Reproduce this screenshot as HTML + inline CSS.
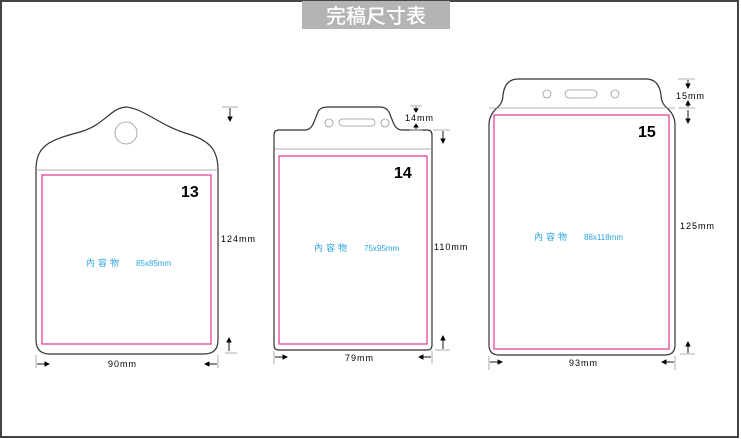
<!DOCTYPE html>
<html><head><meta charset="utf-8"><style>
html,body{margin:0;padding:0;background:#fff}
svg{display:block}
text{font-family:"Liberation Sans","Noto Sans CJK TC",sans-serif}
</style></head><body>
<svg width="741" height="439" viewBox="0 0 741 439" xmlns="http://www.w3.org/2000/svg">
<rect x="1" y="1" width="737" height="436" fill="#fff" stroke="#444" stroke-width="2"/>
<rect x="302" y="1" width="148" height="28" fill="#b4b4b4"/>
<text x="376" y="23" font-size="20" fill="#fff" text-anchor="middle" font-family="Noto Sans CJK TC,sans-serif" font-weight="500">完稿尺寸表</text>

<g fill="none" stroke="#333" stroke-width="1.2">
<path d="M36,340 L36,170 C36,145 50,140 80,132 C105,125 110,108 126,107 C142,108 160,125 185,133 C210,140 218,150 218,170 L218,340 Q218,354 204,354 L50,354 Q36,354 36,340 Z"/>
<path d="M274,345 L274,135 Q274,130 279,130 L305,130 Q311,130 314,122 L318,112 Q320,107 328,107 L380,107 Q386,107 389,112 L393,122 Q396,130 402,130 L427,130 Q432,130 432,135 L432,345 Q432,350 427,350 L279,350 Q274,350 274,345 Z"/>
<path d="M489,345 L489,125 Q489,115 497,108 Q503,103 503,95 Q505,79 518,79 L646,79 Q659,79 661,95 Q661,103 667,108 Q675,115 675,125 L675,345 Q675,355 665,355 L499,355 Q489,355 489,345 Z"/>
</g>
<g fill="none" stroke="#999" stroke-width="0.8">
<line x1="36" y1="170" x2="218" y2="170"/>
<circle cx="126" cy="133" r="11"/>
<line x1="274" y1="149" x2="432" y2="149"/>
<circle cx="329" cy="123" r="4"/><rect x="339" y="119" width="36" height="7" rx="3.5"/><circle cx="385" cy="123" r="4"/>
<line x1="489" y1="108" x2="675" y2="108"/>
<circle cx="547" cy="94" r="4"/><rect x="565" y="90" width="32" height="8" rx="4"/><circle cx="615" cy="94" r="4"/>
</g>
<g fill="none" stroke="#e8439a" stroke-width="1.3">
<rect x="42" y="175" width="169" height="169"/>
<rect x="279" y="156" width="148" height="188"/>
<rect x="494" y="115" width="175" height="234"/>
</g>
<g font-weight="bold" font-size="16" fill="#000">
<text x="181" y="197">13</text>
<text x="394" y="178">14</text>
<text x="638" y="137">15</text>
</g>
<g font-size="9" fill="#29a3e0">
<text x="86" y="266" letter-spacing="3">內容物</text><text x="136" y="266" font-size="8">85x85mm</text>
<text x="314" y="251" letter-spacing="3">內容物</text><text x="364" y="251" font-size="8">75x95mm</text>
<text x="534" y="240" letter-spacing="3">內容物</text><text x="584" y="240" font-size="8">88x118mm</text>
</g>
<g font-size="9" fill="#000" letter-spacing="1">
<text x="221" y="242">124mm</text>
<text x="108" y="367">90mm</text>
<text x="434" y="250">110mm</text>
<text x="345" y="361">79mm</text>
<text x="405" y="121">14mm</text>
<text x="676" y="99">15mm</text>
<text x="680" y="229">125mm</text>
<text x="569" y="366">93mm</text>
</g>
<g stroke="#999" stroke-width="0.8" fill="none">
<line x1="222" y1="107" x2="238" y2="107"/><line x1="225" y1="353" x2="237" y2="353"/>
<line x1="36" y1="355" x2="36" y2="368"/><line x1="218" y1="355" x2="218" y2="368"/>
<line x1="410" y1="106" x2="422" y2="106"/><line x1="410" y1="130" x2="422" y2="130"/><line x1="433" y1="130" x2="450" y2="130"/>
<line x1="435" y1="350" x2="450" y2="350"/>
<line x1="274" y1="351" x2="274" y2="364"/><line x1="432" y1="351" x2="432" y2="364"/>
<line x1="678" y1="79" x2="695" y2="79"/><line x1="678" y1="108" x2="695" y2="108"/>
<line x1="680" y1="354" x2="695" y2="354"/>
<line x1="489" y1="356" x2="489" y2="370"/><line x1="675" y1="356" x2="675" y2="370"/>
</g>
<g stroke="#000" stroke-width="0.9" fill="#000">
<line x1="230" y1="108" x2="230" y2="119"/><path d="M228,117 L230,121 L232,117Z"/>
<line x1="229" y1="351" x2="229" y2="340"/><path d="M227,342 L229,338 L231,342Z"/>
<line x1="37" y1="364" x2="47" y2="364"/><path d="M45,362 L49,364 L45,366Z"/>
<line x1="217" y1="364" x2="207" y2="364"/><path d="M209,362 L205,364 L209,366Z"/>
<line x1="416" y1="107" x2="416" y2="110"/><path d="M414,109 L416,112 L418,109Z"/>
<line x1="416" y1="129" x2="416" y2="126"/><path d="M414,127 L416,124 L418,127Z"/>
<line x1="443" y1="131" x2="443" y2="141"/><path d="M441,139 L443,143 L445,139Z"/>
<line x1="443" y1="349" x2="443" y2="338"/><path d="M441,340 L443,336 L445,340Z"/>
<line x1="275" y1="357" x2="285" y2="357"/><path d="M283,355 L287,357 L283,359Z"/>
<line x1="431" y1="357" x2="421" y2="357"/><path d="M423,355 L419,357 L423,359Z"/>
<line x1="688" y1="80" x2="688" y2="86"/><path d="M686,84 L688,88 L690,84Z"/>
<line x1="688" y1="110" x2="688" y2="121"/><path d="M686,119 L688,123 L690,119Z"/>
<line x1="688" y1="107" x2="688" y2="103"/><path d="M686,105 L688,101 L690,105Z"/>
<line x1="688" y1="353" x2="688" y2="344"/><path d="M686,346 L688,342 L690,346Z"/>
<line x1="490" y1="362" x2="500" y2="362"/><path d="M498,360 L502,362 L498,364Z"/>
<line x1="674" y1="362" x2="664" y2="362"/><path d="M666,360 L662,362 L666,364Z"/>
</g>
</svg>
</body></html>
